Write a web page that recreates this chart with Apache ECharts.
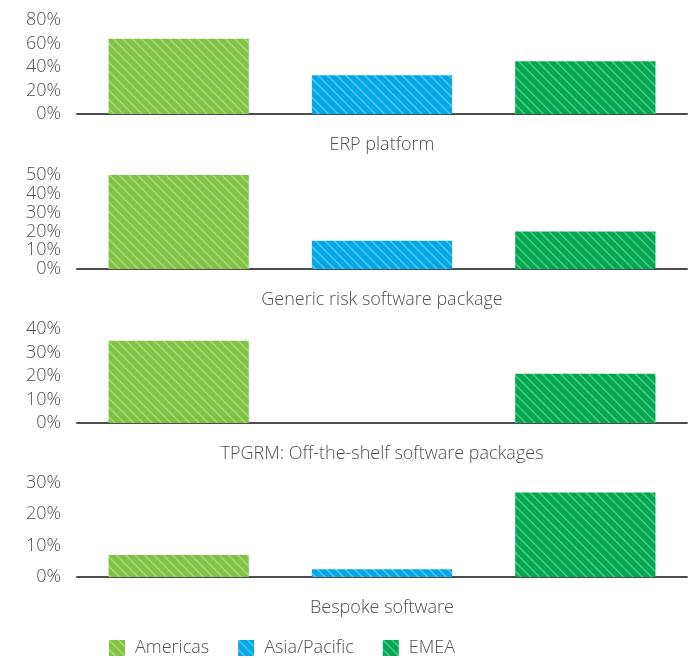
<!DOCTYPE html>
<html>
<head>
<meta charset="utf-8">
<title>Software used by region</title>
<script src="https://cdn.jsdelivr.net/npm/echarts@6/dist/echarts.min.js"></script>
<style>
  html, body { margin: 0; padding: 0; background: #ffffff; }
  #chart { width: 689px; height: 658px; }
</style>
</head>
<body>
<div id="chart"></div>
<script>
// Regions (one bar each per panel) and the panels stacked top to bottom
const regions = ['Americas', 'Asia/Pacific', 'EMEA'];
const panelTitles = [
  'ERP platform',
  'Generic risk software package',
  'TPGRM: Off-the-shelf software packages',
  'Bespoke software'
];

// Share of respondents (%) per panel
const americas    = [64, 50, 35, 7];
const asiaPacific = [33, 15, 0, 2.5];
const emea        = [45, 20, 21, 27];

// Value-axis range per panel
const axisMax  = [80, 50, 40, 30];
const axisStep = [20, 10, 10, 10];

const regionValues = [americas, asiaPacific, emea];
const regionColors = ['#80c342', '#00a8e6', '#00a84f'];

const FONT = '"Open Sans", "Noto Sans", sans-serif';
const TEXT_COLOR = '#505050';
const FONT_SIZE = 18;
const FONT_WEIGHT = 300;

// Diagonal hatch fill: base colour with thin light stripes running top-left to bottom-right
function hatch(base) {
  const T = 28;
  const c = document.createElement('canvas');
  c.width = T; c.height = T;
  const g = c.getContext('2d');
  g.fillStyle = base;
  g.fillRect(0, 0, T, T);
  g.strokeStyle = 'rgba(255,255,255,0.32)';
  g.lineWidth = 1.5;
  const step = T / 3;
  for (let k = -6; k <= 6; k++) {
    const off = k * step;
    g.beginPath();
    g.moveTo(off - T, -T);
    g.lineTo(off + 2 * T, 2 * T);
    g.stroke();
  }
  return { image: c, repeat: 'repeat' };
}
const fills = regionColors.map(hatch);

// Panel geometry
const gridLeft = 77, gridRight = 2, gridHeight = 94;
const gridTops = [20, 175, 329, 483];

const grids = [], xAxes = [], yAxes = [], series = [], graphics = [];

panelTitles.forEach((title, p) => {
  grids.push({ left: gridLeft, right: gridRight, top: gridTops[p], height: gridHeight });
  xAxes.push({
    type: 'category',
    gridIndex: p,
    data: regions,
    axisTick: { show: false },
    axisLabel: { show: false },
    axisLine: { show: true, lineStyle: { color: '#4d4d4d', width: 2 } }
  });
  yAxes.push({
    type: 'value',
    gridIndex: p,
    min: 0,
    max: axisMax[p],
    interval: axisStep[p],
    axisLine: { show: false },
    axisTick: { show: false },
    splitLine: { show: false },
    axisLabel: {
      formatter: '{value}%',
      color: TEXT_COLOR,
      fontFamily: FONT,
      fontSize: FONT_SIZE,
      fontWeight: FONT_WEIGHT,
      margin: 16,
      padding: [0, 0, 4, 0]
    }
  });
  regions.forEach((name, r) => {
    series.push({
      name: name,
      type: 'bar',
      xAxisIndex: p,
      yAxisIndex: p,
      stack: 'panel' + p,
      barWidth: '69%',
      data: regions.map((_, i) => (i === r ? regionValues[r][p] : '-')),
      itemStyle: { color: fills[r] },
      emphasis: { disabled: true },
      animation: false
    });
  });
  // Panel caption under the axis line
  graphics.push({
    type: 'text',
    x: gridLeft + (689 - gridLeft - gridRight) / 2,
    y: gridTops[p] + gridHeight + 30.5,
    style: {
      text: title,
      align: 'center',
      verticalAlign: 'middle',
      fill: TEXT_COLOR,
      font: FONT_WEIGHT + ' ' + FONT_SIZE + 'px ' + FONT
    }
  });
});

const chart = echarts.init(document.getElementById('chart'), null, { renderer: 'canvas' });
chart.setOption({
  animation: false,
  grid: grids,
  xAxis: xAxes,
  yAxis: yAxes,
  series: series,
  graphic: graphics,
  legend: {
    data: regions,
    left: 109,
    top: 639,
    padding: 0,
    itemWidth: 16,
    itemHeight: 16,
    itemGap: 29,
    icon: 'rect',
    selectedMode: false,
    textStyle: {
      color: TEXT_COLOR,
      fontFamily: FONT,
      fontSize: FONT_SIZE,
      fontWeight: FONT_WEIGHT,
      padding: [0, 0, 0, 5]
    }
  }
});
</script>
</body>
</html>
